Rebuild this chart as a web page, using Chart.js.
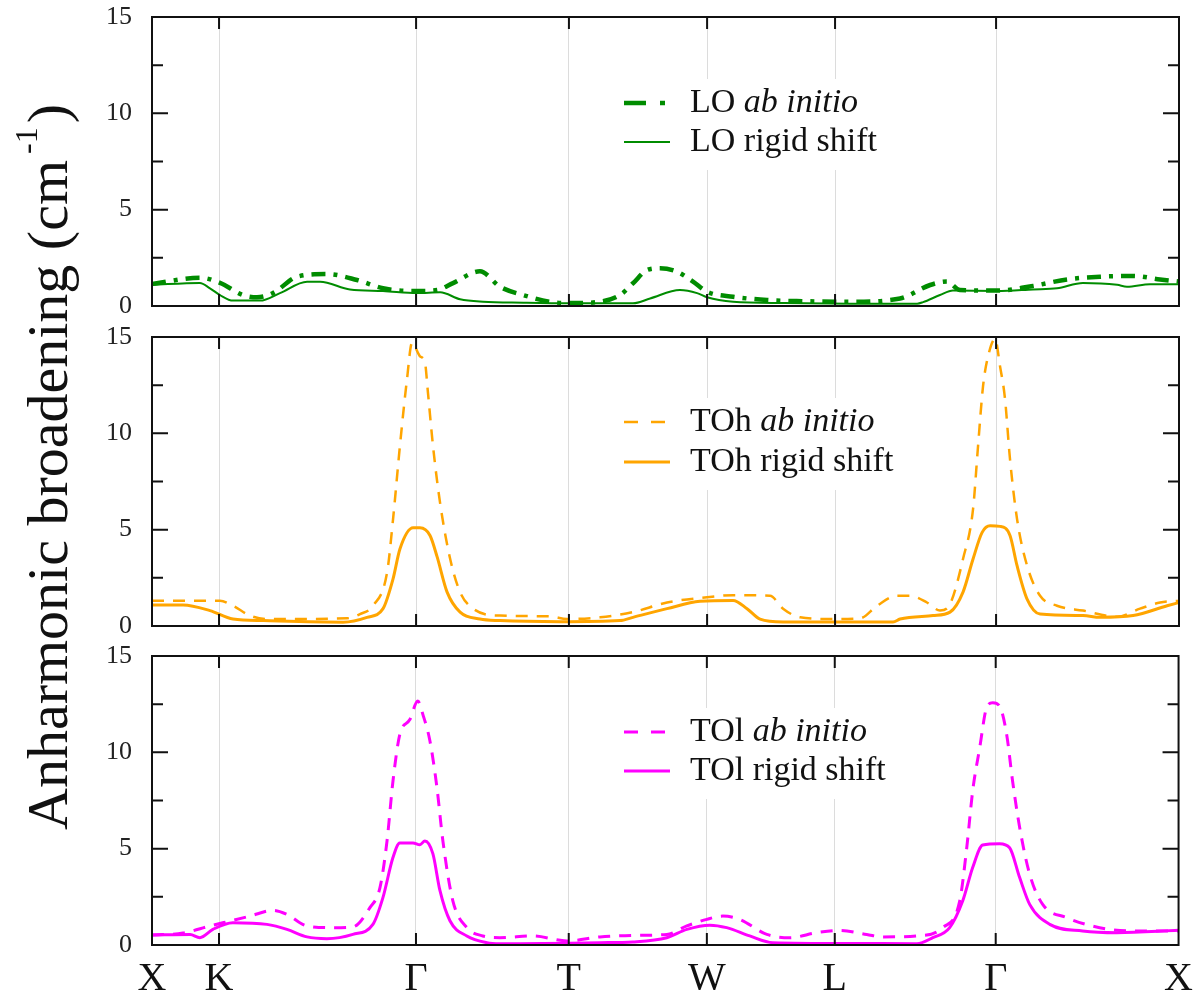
<!DOCTYPE html>
<html>
<head>
<meta charset="utf-8">
<script src="https://cdn.jsdelivr.net/npm/chart.js@4.4.1/dist/chart.umd.min.js"></script>
<style>
  body { margin: 0; background: #fff; width: 1203px; height: 990px; overflow: hidden; position: relative; }
  canvas { position: absolute; left: 0; }
  #ytitle {
    position: absolute; left: 52px; top: 467px;
    transform: translate(-50%, -50%) rotate(-90deg);
    font-family: 'Liberation Serif', 'Times New Roman', serif;
    font-size: 58px; line-height: 58px; white-space: nowrap; color: #111;
  }
  #ytitle span { font-size: 32px; position: relative; top: -30px; margin-left: 6px; margin-right: 4px; }
</style>
</head>
<body>
<canvas id="c1" width="1203" height="320" style="top:0px"></canvas>
<canvas id="c2" width="1203" height="320" style="top:320px"></canvas>
<canvas id="c3" width="1203" height="351" style="top:639px"></canvas>
<div id="ytitle">Anharmonic broadening (cm<span>-1</span>)</div>
<script>
// path distance of the high symmetry points
const kTicks = [0, 0.361, 1.422, 2.245, 2.989, 3.678, 4.545, 5.53];
const kLabels = ['X', 'K', 'Γ', 'T', 'W', 'L', 'Γ', 'X'];
const yMajor = [0, 5, 10, 15];
const yMinor = [2.5, 7.5, 12.5];

// LO
const loAbInitio = [[0,1.14],[0.258,1.47],[0.366,1.2],[0.49,0.57],[0.565,0.45],[0.652,0.67],[0.781,1.52],
  [0.942,1.66],[1.104,1.35],[1.244,0.92],[1.427,0.78],[1.535,0.83],[1.621,1.19],[1.766,1.8],[1.874,1.0],
  [1.998,0.57],[2.143,0.22],[2.246,0.15],[2.413,0.22],[2.52,0.57],[2.59,1.18],[2.666,1.87],[2.736,1.96],
  [2.827,1.78],[2.913,1.27],[2.989,0.74],[3.129,0.48],[3.312,0.31],[3.5,0.25],[3.759,0.22],[4.028,0.39],
  [4.19,1.09],[4.281,1.27],[4.351,0.83],[4.55,0.8],[4.744,1.04],[4.927,1.38],[5.105,1.52],[5.283,1.56],
  [5.428,1.38],[5.53,1.27]];
const loRigid = [[0,1.1],[0.258,1.2],[0.312,0.92],[0.366,0.57],[0.436,0.28],[0.582,0.28],[0.689,0.67],
  [0.835,1.26],[0.905,1.26],[1.066,0.86],[1.244,0.78],[1.427,0.67],[1.551,0.71],[1.659,0.35],[1.782,0.22],
  [2.0,0.17],[2.246,0.14],[2.59,0.14],[2.682,0.39],[2.843,0.83],[2.935,0.67],[2.989,0.45],[3.129,0.22],
  [3.4,0.15],[3.759,0.12],[4.12,0.12],[4.152,0.2],[4.243,0.57],[4.313,0.8],[4.55,0.78],[4.744,0.86],
  [4.873,0.92],[5.013,1.2],[5.197,1.1],[5.25,1.0],[5.374,1.13],[5.53,1.13]];

// TOh
const tohAbInitio = [[0,1.31],[0.366,1.31],[0.436,1.05],[0.528,0.54],[0.619,0.36],[1.05,0.4],[1.12,0.62],
  [1.19,1.05],[1.266,2.79],[1.298,5.55],[1.335,9.35],[1.373,12.8],[1.4,14.7],[1.443,14.0],[1.47,13.66],
  [1.486,12.1],[1.513,9.35],[1.551,6.4],[1.605,3.5],[1.659,1.76],[1.729,0.9],[1.874,0.54],[2.143,0.5],
  [2.235,0.36],[2.413,0.45],[2.59,0.72],[2.773,1.22],[2.989,1.49],[3.129,1.6],[3.328,1.57],[3.398,0.9],
  [3.49,0.45],[3.667,0.36],[3.813,0.4],[3.904,1.05],[4.012,1.57],[4.082,1.57],[4.173,1.22],[4.243,0.8],
  [4.297,1.14],[4.367,3.48],[4.421,6.07],[4.448,9.35],[4.475,12.46],[4.502,14.0],[4.54,14.9],[4.566,13.5],
  [4.593,11.8],[4.62,8.66],[4.658,5.55],[4.712,3.13],[4.782,1.57],[4.873,1.05],[5.013,0.8],[5.197,0.48],
  [5.32,0.9],[5.428,1.22],[5.53,1.31]];
const tohRigid = [[0,1.09],[0.167,1.09],[0.312,0.8],[0.436,0.36],[0.6,0.28],[1.029,0.2],[1.158,0.45],
  [1.244,0.9],[1.298,2.45],[1.335,4.0],[1.406,5.1],[1.443,5.1],[1.497,4.7],[1.535,3.6],[1.589,1.76],
  [1.659,0.72],[1.766,0.36],[1.874,0.28],[2.2,0.22],[2.52,0.28],[2.59,0.45],[2.773,0.9],[2.951,1.28],
  [3.129,1.33],[3.204,0.9],[3.274,0.36],[3.398,0.21],[3.759,0.21],[3.99,0.21],[4.028,0.36],[4.206,0.54],
  [4.297,0.72],[4.367,1.76],[4.421,3.48],[4.47,4.86],[4.513,5.2],[4.566,5.17],[4.62,4.7],[4.658,3.13],
  [4.712,1.4],[4.782,0.62],[5.013,0.54],[5.105,0.45],[5.283,0.54],[5.466,1.05],[5.53,1.22]];

// TOl
const tolAbInitio = [[0,0.52],[0.167,0.62],[0.312,0.99],[0.436,1.28],[0.528,1.5],[0.652,1.8],[0.727,1.59],
  [0.835,0.99],[0.975,0.9],[1.082,0.94],[1.174,1.94],[1.228,2.98],[1.266,5.4],[1.298,8.5],[1.335,10.93],
  [1.389,11.7],[1.432,12.66],[1.459,11.97],[1.497,10.6],[1.535,8.17],[1.567,5.4],[1.621,2.28],[1.696,0.9],
  [1.782,0.47],[1.874,0.38],[2.052,0.47],[2.235,0.21],[2.413,0.42],[2.59,0.5],[2.773,0.55],[2.881,0.99],
  [2.989,1.33],[3.075,1.5],[3.166,1.33],[3.312,0.55],[3.436,0.38],[3.581,0.64],[3.705,0.76],[3.85,0.55],
  [3.936,0.42],[4.12,0.47],[4.26,0.9],[4.351,2.28],[4.389,5.05],[4.421,8.0],[4.459,10.25],[4.496,12.32],
  [4.529,12.58],[4.566,12.4],[4.604,10.93],[4.636,8.5],[4.674,6.1],[4.728,3.67],[4.798,2.11],[4.927,1.42],
  [5.105,0.9],[5.283,0.73],[5.53,0.73]];
const tolRigid = [[0,0.52],[0.205,0.55],[0.258,0.38],[0.328,0.81],[0.436,1.16],[0.619,1.07],[0.727,0.81],
  [0.835,0.42],[0.942,0.33],[1.082,0.55],[1.19,1.07],[1.244,2.46],[1.298,4.54],[1.335,5.3],[1.406,5.3],
  [1.443,5.2],[1.47,5.4],[1.513,4.74],[1.551,2.83],[1.605,1.26],[1.696,0.47],[1.804,0.12],[1.874,0.07],
  [2.413,0.12],[2.59,0.16],[2.773,0.38],[2.881,0.81],[3.005,1.03],[3.096,0.9],[3.22,0.47],[3.344,0.12],
  [3.759,0.08],[4.12,0.07],[4.206,0.38],[4.297,0.9],[4.367,2.28],[4.421,4.02],[4.475,5.19],[4.566,5.26],
  [4.62,5.05],[4.674,3.5],[4.728,2.11],[4.836,1.07],[5.013,0.73],[5.197,0.64],[5.53,0.76]];

const SERIF = "'Liberation Serif', 'Times New Roman', serif";

// frame, inside ticks and the little legend in each panel
const framePlugin = {
  id: 'frame',
  afterDatasetsDraw(chart, args, opts) {
    const { ctx, chartArea: a, scales: { x, y } } = chart;
    ctx.save();
    const lg = opts.legend;
    if (lg) {
      ctx.fillStyle = '#fff';
      ctx.fillRect(a.left + 456, a.top + lg.rows[0] - 24, 292, lg.rows[1] - lg.rows[0] + 52);
      lg.items.forEach((it, i) => {
        const py = a.top + lg.rows[i];
        ctx.beginPath();
        ctx.strokeStyle = it.color;
        ctx.lineWidth = it.width;
        ctx.setLineDash(it.dash || []);
        ctx.moveTo(a.left + 472, py);
        ctx.lineTo(a.left + 518, py);
        ctx.stroke();
        ctx.setLineDash([]);
        ctx.fillStyle = '#111';
        ctx.textBaseline = 'middle';
        ctx.font = '34px ' + SERIF;
        ctx.fillText(it.name + ' ', a.left + 538, py);
        const w = ctx.measureText(it.name + ' ').width;
        ctx.font = (it.italic ? 'italic ' : '') + '34px ' + SERIF;
        ctx.fillText(it.tail, a.left + 538 + w, py);
      });
    }
    ctx.strokeStyle = '#111';
    ctx.lineWidth = 2;
    ctx.beginPath();
    yMajor.forEach(v => {
      const py = y.getPixelForValue(v);
      ctx.moveTo(a.left, py); ctx.lineTo(a.left + 16, py);
      ctx.moveTo(a.right, py); ctx.lineTo(a.right - 16, py);
    });
    yMinor.forEach(v => {
      const py = y.getPixelForValue(v);
      ctx.moveTo(a.left, py); ctx.lineTo(a.left + 11, py);
      ctx.moveTo(a.right, py); ctx.lineTo(a.right - 11, py);
    });
    kTicks.slice(1, -1).forEach(v => {
      const px = x.getPixelForValue(v);
      ctx.moveTo(px, a.top); ctx.lineTo(px, a.top + 12);
      ctx.moveTo(px, a.bottom); ctx.lineTo(px, a.bottom - 12);
    });
    ctx.stroke();
    ctx.strokeRect(a.left, a.top, a.right - a.left, a.bottom - a.top);
    ctx.restore();
  }
};

function makePanel(id, xAxisHeight, showLabels, datasets, legend) {
  new Chart(document.getElementById(id), {
    type: 'line',
    data: { datasets },
    options: {
      responsive: false,
      animation: false,
      devicePixelRatio: 1,
      layout: { padding: { top: 17, right: 24, left: 0, bottom: 0 } },
      elements: { point: { radius: 0 }, line: { cubicInterpolationMode: 'monotone', borderCapStyle: 'butt' } },
      plugins: { legend: { display: false }, tooltip: { enabled: false }, frame: { legend } },
      scales: {
        x: {
          type: 'linear', min: 0, max: 5.53,
          afterBuildTicks: s => { s.ticks = kTicks.map(v => ({ value: v })); },
          afterFit: s => { s.height = xAxisHeight; },
          grid: { color: '#dcdcdc', lineWidth: 1, drawTicks: false },
          border: { display: false },
          ticks: {
            display: showLabels, autoSkip: false, maxRotation: 0, padding: 10,
            color: '#111', font: { family: SERIF, size: 40 },
            callback: (v, i) => kLabels[i]
          }
        },
        y: {
          min: 0, max: 15,
          afterFit: s => { s.width = 152; s.paddingTop = 0; s.paddingBottom = 0; },
          grid: { display: false, drawTicks: false },
          border: { display: false },
          ticks: { stepSize: 5, padding: 20, color: '#222', font: { family: SERIF, size: 26 } }
        }
      }
    },
    plugins: [framePlugin]
  });
}

const GREEN = '#008c00', ORANGE = '#ffa500', MAGENTA = '#ff00ff';

makePanel('c1', 14, false, [
  { data: loAbInitio, borderColor: GREEN, borderWidth: 4.5, borderDash: [14, 8, 4, 8] },
  { data: loRigid, borderColor: GREEN, borderWidth: 2 }
], { rows: [86, 125], items: [
  { name: 'LO', tail: 'ab initio', italic: true, color: GREEN, width: 4.5, dash: [22, 14, 5, 14] },
  { name: 'LO', tail: 'rigid shift', color: GREEN, width: 2 }
] });

makePanel('c2', 14, false, [
  { data: tohAbInitio, borderColor: ORANGE, borderWidth: 2.5, borderDash: [12, 9] },
  { data: tohRigid, borderColor: ORANGE, borderWidth: 3 }
], { rows: [85, 125], items: [
  { name: 'TOh', tail: 'ab initio', italic: true, color: ORANGE, width: 2.5, dash: [14, 13] },
  { name: 'TOh', tail: 'rigid shift', color: ORANGE, width: 3 }
] });

makePanel('c3', 45, true, [
  { data: tolAbInitio, borderColor: MAGENTA, borderWidth: 3, borderDash: [12, 9] },
  { data: tolRigid, borderColor: MAGENTA, borderWidth: 3 }
], { rows: [76, 115], items: [
  { name: 'TOl', tail: 'ab initio', italic: true, color: MAGENTA, width: 3, dash: [14, 13] },
  { name: 'TOl', tail: 'rigid shift', color: MAGENTA, width: 3 }
] });
</script>
</body>
</html>
